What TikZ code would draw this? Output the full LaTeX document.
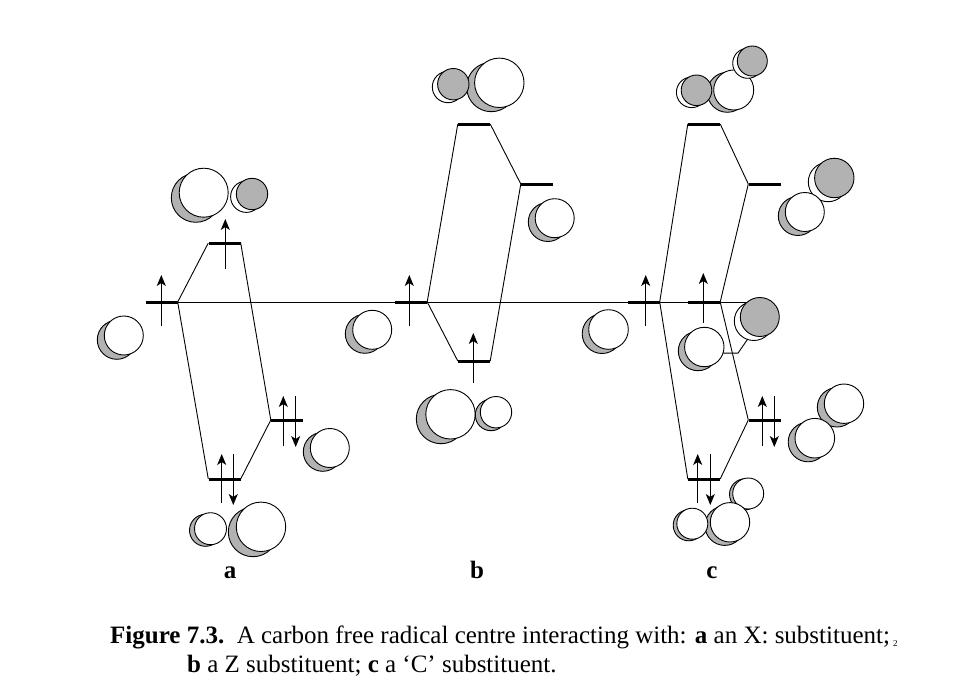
\documentclass[tikz,border=0pt]{standalone}
\usepackage{fontspec}
\setmainfont{Liberation Serif}
\usetikzlibrary{arrows.meta}
\definecolor{lobegray}{RGB}{178,178,178}
\tikzset{
    mo/.style={fill=black,inner sep=0pt,minimum width=32pt,minimum height=3pt},
    tie/.style={line width=0.9pt},
    spin/.style={line width=0.9pt,-{Stealth[length=11pt,width=9pt,inset=3pt]}},
    lobe/.style={circle,draw=black,line width=0.9pt,inner sep=0pt,outer sep=0pt},
    tag/.style={anchor=base,inner sep=0pt,font=\bfseries\fontsize{25}{25}\selectfont},
    caption/.style={anchor=base west,inner sep=0pt,font=\fontsize{25}{25}\selectfont}
}
\begin{document}
\begin{tikzpicture}[x=1pt,y=-1pt]
    \useasboundingbox (0,0) rectangle (969,696);
    \foreach \n/\x/\y in {aL/161.5/302, aT/224.5/243, aR/287/420, aB/224.5/479,
                          bL/411/302, bT/474/124, bR/537/184, bB/474/361,
                          cL/643.5/302, cT/704/124, cR/764.5/184, cM/704/302, cS/764.5/420, cB/704/479} {
        \node[mo] (\n) at (\x,\y) {};
    }
    \coordinate (hEnd) at (747,302);
    \draw[tie] (aL.east) -- (hEnd);
    % a
    \draw[tie] (aL.east) -- (aT.west);
    \draw[tie] (aL.east) -- (aB.west);
    \draw[tie] (aT.east) -- (aR.west);
    \draw[tie] (aB.east) -- (aR.west);
    % b
    \draw[tie] (bL.east) -- (bT.west);
    \draw[tie] (bL.east) -- (bB.west);
    \draw[tie] (bT.east) -- (bR.west);
    \draw[tie] (bB.east) -- (bR.west);
    % c
    \draw[tie] (cL.east) -- (cT.west);
    \draw[tie] (cL.east) -- (cB.west);
    \draw[tie] (cT.east) -- (cR.west);
    \draw[tie] (cM.east) -- (cR.west);
    \draw[tie] (cM.east) -- (cS.west);
    \draw[tie] (cB.east) -- (cS.west);
    % spins
    \foreach \x/\ya/\yb in {161.3/326/275, 225.3/269/219, 283.3/446/396,
                            221.7/503/454, 409.3/326/275, 473.3/383/333,
                            645.7/326/275, 703.3/323/273, 762.3/446/396, 697.7/503/454,
                            295.7/396/447, 233.3/454/505, 774.3/396/447, 710.3/454/505} {
        \draw[spin] (\x,\ya) -- (\x,\yb);
    }
    \node[lobe,fill=white,minimum size=39.4pt] (g6b) at (828,182) {};
    \node[lobe,fill=lobegray,minimum size=39.4pt] (g6) at (834.3,178) {};
    % lobes, white in front
    \foreach \n/\x/\y/\bx/\by/\rad in {
        l1/123.8/335.5/116.8/339.8/19.5, l2/203.7/192.7/195.8/197.8/24.5,
        l3/329.8/448/322.8/451.8/19.5, l4/210.5/528.7/205.5/530.3/16,
        l5/261/526.8/253/532/24.7, l6/372.2/329.8/364.8/333.8/19.5,
        l7/499.3/82.8/491.3/87/24.7, l8/554.7/218.2/547.8/222/19.5,
        l9/450.5/414.3/441/419/24.7, l10/496/412.2/491/415/15.7,
        l11/608.5/329.5/602/333.7/19.8, l12/733.7/90/727.3/92.3/20,
        l13/844/403.7/837/407.3/19.7, l14/814.8/438.2/808/442/19.8,
        l15/748.2/493.5/745/494.3/15.5, l16/730/522.3/724.7/525.7/19.7,
        l17/692.3/523.7/688.7/525.3/15.5, l18/704.3/347/698/351/19.7,
        l19/804.8/212/797.8/216/19.5} {
        \node[lobe,fill=lobegray,minimum size=2*\rad pt] (\n b) at (\bx,\by) {};
        \node[lobe,fill=white,minimum size=2*\rad pt] (\n) at (\x,\y) {};
    }
    % lobes, gray in front
    \foreach \n/\x/\y/\bx/\by/\rad in {
        g1/252/194/246.3/196.7/15.7, g2/453.3/84.2/448/87/15.7,
        g3/696.5/90.3/691.7/92.3/15.3, g4/752.3/61/747.7/63.3/15,
        g5/759.8/317/753.8/321/19.5} {
        \node[lobe,fill=white,minimum size=2*\rad pt] (\n b) at (\bx,\by) {};
        \node[lobe,fill=lobegray,minimum size=2*\rad pt] (\n) at (\x,\y) {};
    }
    \draw[tie] (l18.-18) -- ++(15,0) -- (g5b.-109);

    \node[tag] (labA) at (230,578) {a};
    \node[tag] (labB) at (477,578) {b};
    \node[tag] (labC) at (712,578) {c};
    \node[caption] (capA) at (110,643)
        {\textbf{Figure 7.3.}\hspace{0.5em}A carbon free radical centre interacting with: \textbf{a} an X: substituent;};
    \node[caption,font=\fontsize{9}{9}\selectfont] (capMark) at (893,646) {2};
    \node[caption] (capB) at (187,672)
        {\textbf{b} a Z substituent; \textbf{c} a ‘C’ substituent.};
\end{tikzpicture}
\end{document}
